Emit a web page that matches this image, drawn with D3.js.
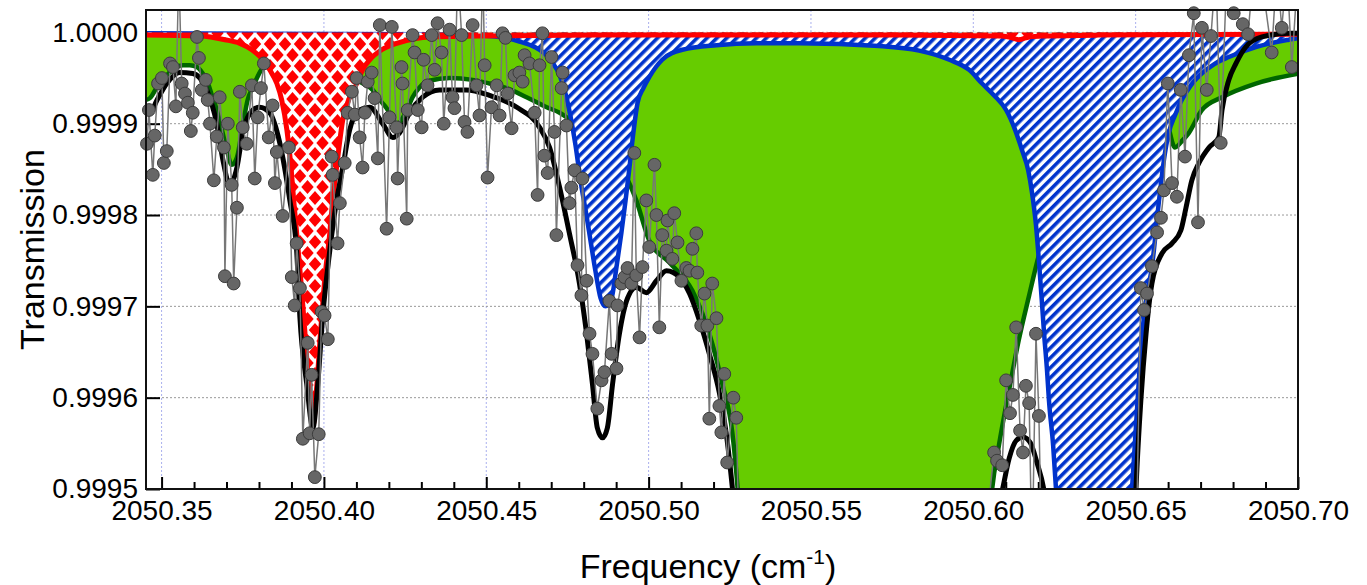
<!DOCTYPE html>
<html>
<head>
<meta charset="utf-8">
<script src="https://cdn.jsdelivr.net/npm/d3@7"></script>
<style>
  body { margin: 0; background: #fff; }
  text { font-family: "Liberation Sans", Arial, sans-serif; }
</style>
</head>
<body>
<svg id="chart" width="1367" height="585"></svg>
<script>
// ---- Tick values ----
const xMajorTicks = [2050.35, 2050.40, 2050.45, 2050.50, 2050.55, 2050.60, 2050.65, 2050.70];
const yTicks = [0.9995, 0.9996, 0.9997, 0.9998, 0.9999, 1.0000];

// ---- Measured spectrum (frequency in cm^-1, transmission) ----
const dataFreq = [
  2050.3455, 2050.3461, 2050.3473, 2050.3479, 2050.3489, 2050.3501, 2050.3507, 2050.3516, 2050.3526, 2050.3535,
  2050.3544, 2050.3553, 2050.3562, 2050.3572, 2050.3581, 2050.3590, 2050.3596, 2050.3609, 2050.3615, 2050.3624,
  2050.3636, 2050.3642, 2050.3649, 2050.3661, 2050.3670, 2050.3679, 2050.3692, 2050.3695, 2050.3704, 2050.3716,
  2050.3722, 2050.3732, 2050.3741, 2050.3750, 2050.3762, 2050.3778, 2050.3787, 2050.3796, 2050.3806, 2050.3815,
  2050.3830, 2050.3842, 2050.3849, 2050.3855, 2050.3873, 2050.3892, 2050.3901, 2050.3910, 2050.3916, 2050.3926,
  2050.3935, 2050.3950, 2050.3956, 2050.3962, 2050.3972, 2050.3984, 2050.3993, 2050.4002, 2050.4012, 2050.4024,
  2050.4027, 2050.4042, 2050.4049, 2050.4064, 2050.4073, 2050.4086, 2050.4095, 2050.4101, 2050.4110, 2050.4119,
  2050.4126, 2050.4135, 2050.4147, 2050.4156, 2050.4166, 2050.4172, 2050.4193, 2050.4202, 2050.4209, 2050.4224,
  2050.4227, 2050.4239, 2050.4242, 2050.4255, 2050.4258, 2050.4273, 2050.4279, 2050.4289, 2050.4301, 2050.4307,
  2050.4319, 2050.4332, 2050.4341, 2050.4350, 2050.4362, 2050.4369, 2050.4387, 2050.4396, 2050.4402, 2050.4412,
  2050.4424, 2050.4433, 2050.4442, 2050.4458, 2050.4470, 2050.4479, 2050.4489, 2050.4495, 2050.4504, 2050.4516,
  2050.4532, 2050.4541, 2050.4550, 2050.4559, 2050.4566, 2050.4578, 2050.4587, 2050.4602, 2050.4612, 2050.4618,
  2050.4633, 2050.4649, 2050.4658, 2050.4664, 2050.4673, 2050.4679, 2050.4689, 2050.4701, 2050.4710, 2050.4716,
  2050.4732, 2050.4735, 2050.4747, 2050.4756, 2050.4762, 2050.4772, 2050.4781, 2050.4793, 2050.4796, 2050.4809,
  2050.4818, 2050.4827, 2050.4842, 2050.4855, 2050.4864, 2050.4879, 2050.4886, 2050.4901, 2050.4904, 2050.4916,
  2050.4926, 2050.4935, 2050.4947, 2050.4956, 2050.4962, 2050.4972, 2050.4981, 2050.4993, 2050.5002, 2050.5018,
  2050.5024, 2050.5033, 2050.5042, 2050.5055, 2050.5058, 2050.5073, 2050.5079, 2050.5089, 2050.5101, 2050.5116,
  2050.5126, 2050.5135, 2050.5147, 2050.5150, 2050.5162, 2050.5172, 2050.5181, 2050.5187, 2050.5196, 2050.5209,
  2050.5218, 2050.5224, 2050.5233, 2050.5242, 2050.5261, 2050.5270, 2050.5285, 2050.5330, 2050.5400, 2050.5500,
  2050.5600, 2050.5700, 2050.5800, 2050.5900, 2050.5990, 2050.6040, 2050.6064, 2050.6073, 2050.6089, 2050.6101,
  2050.6113, 2050.6122, 2050.6132, 2050.6144, 2050.6153, 2050.6162, 2050.6172, 2050.6181, 2050.6193, 2050.6202,
  2050.6215, 2050.6260, 2050.6320, 2050.6380, 2050.6440, 2050.6500, 2050.6516, 2050.6526, 2050.6535, 2050.6550,
  2050.6566, 2050.6578, 2050.6587, 2050.6599, 2050.6612, 2050.6627, 2050.6639, 2050.6652, 2050.6664, 2050.6679,
  2050.6692, 2050.6704, 2050.6719, 2050.6732, 2050.6747, 2050.6762, 2050.6781, 2050.6802, 2050.6830, 2050.6846,
  2050.6864, 2050.6886, 2050.6919, 2050.6935, 2050.6950, 2050.6966, 2050.6981, 2050.7000
];
const dataTrans = [
  0.999878, 0.999915, 0.999844, 0.999887, 0.999944, 0.999950, 0.999857, 0.999870, 0.999966, 0.999962,
  0.999919, 1.000070, 0.999944, 0.999933, 0.999923, 0.999892, 0.999912, 0.999995, 0.999972, 0.999937,
  0.999948, 0.999926, 0.999900, 0.999838, 0.999886, 0.999929, 0.999874, 0.999733, 0.999900, 0.999833,
  0.999725, 0.999808, 0.999935, 0.999896, 0.999878, 0.999942, 0.999840, 0.999907, 0.999939, 0.999966,
  0.999885, 0.999920, 0.999835, 0.999869, 0.999799, 0.999874, 0.999732, 0.999701, 0.999769, 0.999720,
  0.999555, 0.999660, 0.999561, 0.999625, 0.999513, 0.999560, 0.999694, 0.999690, 0.999664, 0.999864,
  0.999844, 0.999769, 0.999813, 0.999857, 0.999912, 0.999935, 0.999910, 0.999950, 0.999885, 0.999852,
  0.999912, 0.999946, 0.999956, 0.999928, 0.999862, 1.000008, 0.999785, 0.999907, 1.000006, 0.999896,
  0.999840, 0.999962, 0.999944, 0.999796, 0.999915, 0.999997, 0.999978, 0.999915, 0.999896, 0.999970,
  0.999942, 0.999997, 0.999959, 1.000010, 0.999978, 0.999900, 1.000003, 0.999929, 0.999917, 1.000070,
  0.999997, 0.999902, 0.999891, 1.000008, 0.999942, 0.999909, 1.000070, 0.999964, 0.999841, 0.999918,
  0.999942, 0.999909, 0.999999, 0.999994, 0.999933, 0.999895, 0.999953, 0.999956, 0.999946, 0.999975,
  0.999966, 0.999912, 0.999822, 0.999964, 0.999999, 0.999865, 0.999846, 0.999973, 0.999891, 0.999778,
  0.999939, 0.999956, 0.999898, 0.999813, 0.999830, 0.999849, 0.999745, 0.999712, 0.999840, 0.999728,
  0.999670, 0.999648, 0.999588, 0.999619, 0.999628, 0.999706, 0.999648, 0.999632, 0.999701, 0.999725,
  0.999732, 0.999742, 0.999725, 0.999868, 0.999734, 0.999666, 0.999743, 0.999816, 0.999765, 0.999855,
  0.999800, 0.999677, 0.999778, 0.999761, 0.999794, 0.999752, 0.999802, 0.999770, 0.999728, 0.999742,
  0.999739, 0.999763, 0.999780, 0.999737, 0.999679, 0.999714, 0.999679, 0.999577, 0.999725, 0.999687,
  0.999591, 0.999562, 0.999626, 0.999529, 0.999600, 0.999578, 0.999350, 0.999240, 0.999150, 0.999060,
  0.999020, 0.999050, 0.999140, 0.999260, 0.999380, 0.999460, 0.999540, 0.999531, 0.999526, 0.999619,
  0.999583, 0.999603, 0.999677, 0.999564, 0.999540, 0.999613, 0.999594, 0.999420, 0.999670, 0.999580,
  0.999350, 0.999180, 0.999080, 0.999120, 0.999250, 0.999400, 0.999720, 0.999696, 0.999714, 0.999744,
  0.999781, 0.999797, 0.999827, 0.999944, 0.999835, 0.999820, 0.999937, 0.999864, 0.999975, 1.000021,
  0.999792, 1.000005, 0.999937, 0.999996, 1.000070, 0.999879, 1.000070, 1.000021, 1.000009, 0.999998,
  1.000070, 1.000065, 0.999978, 1.000070, 1.000005, 1.000070, 0.999962, 1.000070
];

// ---- Total fit (black) ----
const fitFreq = [
  2050.3449, 2050.3464, 2050.3486, 2050.3516, 2050.3556, 2050.3596, 2050.3639, 2050.3670, 2050.3689, 2050.3710,
  2050.3732, 2050.3750, 2050.3781, 2050.3802, 2050.3833, 2050.3864, 2050.3895, 2050.3916, 2050.3926, 2050.3947,
  2050.3966, 2050.3981, 2050.3996, 2050.4018, 2050.4039, 2050.4058, 2050.4079, 2050.4110, 2050.4141, 2050.4181,
  2050.4212, 2050.4233, 2050.4264, 2050.4304, 2050.4356, 2050.4439, 2050.4510, 2050.4594, 2050.4664, 2050.4695,
  2050.4726, 2050.4756, 2050.4787, 2050.4809, 2050.4827, 2050.4842, 2050.4858, 2050.4873, 2050.4889, 2050.4910,
  2050.4932, 2050.4962, 2050.4993, 2050.5024, 2050.5055, 2050.5095, 2050.5126, 2050.5156, 2050.5187, 2050.5218,
  2050.5242, 2050.5258, 2050.5274, 2050.5350, 2050.5500, 2050.5650, 2050.5800, 2050.5950, 2050.6040, 2050.6089,
  2050.6110, 2050.6132, 2050.6153, 2050.6175, 2050.6196, 2050.6218, 2050.6260, 2050.6350, 2050.6450, 2050.6485,
  2050.6501, 2050.6516, 2050.6532, 2050.6550, 2050.6581, 2050.6612, 2050.6639, 2050.6655, 2050.6673, 2050.6695,
  2050.6726, 2050.6756, 2050.6766, 2050.6787, 2050.6809, 2050.6839, 2050.6889, 2050.6972, 2050.7005
];
const fitTrans = [
  0.999918, 0.999912, 0.999926, 0.999944, 0.999956, 0.999955, 0.999937, 0.999900, 0.999860, 0.999833,
  0.999852, 0.999890, 0.999915, 0.999918, 0.999912, 0.999879, 0.999816, 0.999761, 0.999688, 0.999615,
  0.999567, 0.999615, 0.999688, 0.999761, 0.999816, 0.999852, 0.999893, 0.999915, 0.999918, 0.999900,
  0.999885, 0.999890, 0.999912, 0.999929, 0.999937, 0.999937, 0.999931, 0.999918, 0.999896, 0.999874,
  0.999830, 0.999780, 0.999725, 0.999670, 0.999615, 0.999567, 0.999556, 0.999567, 0.999615, 0.999670,
  0.999706, 0.999721, 0.999715, 0.999728, 0.999739, 0.999732, 0.999714, 0.999685, 0.999648, 0.999605,
  0.999553, 0.999501, 0.999440, 0.999250, 0.999050, 0.999000, 0.999050, 0.999250, 0.999440, 0.999498,
  0.999533, 0.999553, 0.999557, 0.999551, 0.999529, 0.999498, 0.999350, 0.999200, 0.999250, 0.999350,
  0.999501, 0.999597, 0.999670, 0.999725, 0.999758, 0.999769, 0.999783, 0.999808, 0.999838, 0.999857,
  0.999874, 0.999885, 0.999915, 0.999948, 0.999966, 0.999984, 0.999995, 0.999999, 0.999999
];

// ---- Component 1 (red, diamond pattern) ----
const redFreq = [
  2050.3452, 2050.3618, 2050.3695, 2050.3741, 2050.3778, 2050.3812, 2050.3833, 2050.3855, 2050.3870, 2050.3886,
  2050.3898, 2050.3907, 2050.3916, 2050.3929, 2050.3941, 2050.3953, 2050.3966, 2050.3978, 2050.3990, 2050.4002,
  2050.4018, 2050.4027, 2050.4039, 2050.4058, 2050.4076, 2050.4101, 2050.4119, 2050.4141, 2050.4178, 2050.4224,
  2050.4279, 2050.4325, 2050.4479, 2050.4849, 2050.5772, 2050.6079, 2050.6110, 2050.6140, 2050.6172, 2050.6218,
  2050.6387, 2050.7005
];
const redTrans = [
  0.999997, 0.999996, 0.999992, 0.999988, 0.999981, 0.999970, 0.999959, 0.999944, 0.999926, 0.999893,
  0.999855, 0.999816, 0.999780, 0.999728, 0.999674, 0.999613, 0.999569, 0.999613, 0.999674, 0.999728,
  0.999780, 0.999816, 0.999852, 0.999904, 0.999926, 0.999944, 0.999959, 0.999970, 0.999981, 0.999988,
  0.999993, 0.999995, 0.999996, 0.999997, 0.999997, 0.999996, 0.999995, 0.999992, 0.999995, 0.999996,
  0.999997, 0.999998
];

// ---- Component 2 (blue, striped) ----
const blueFreq = [
  2050.3452, 2050.4295, 2050.4449, 2050.4541, 2050.4602, 2050.4649, 2050.4679, 2050.4704, 2050.4726, 2050.4744,
  2050.4759, 2050.4775, 2050.4790, 2050.4806, 2050.4821, 2050.4836, 2050.4852, 2050.4867, 2050.4886, 2050.4901,
  2050.4916, 2050.4929, 2050.4941, 2050.4953, 2050.4966, 2050.4984, 2050.5002, 2050.5042, 2050.5104, 2050.5209,
  2050.5332, 2050.5464, 2050.5710, 2050.5833, 2050.5926, 2050.5987, 2050.6027, 2050.6064, 2050.6101, 2050.6129,
  2050.6150, 2050.6169, 2050.6181, 2050.6193, 2050.6202, 2050.6211, 2050.6218, 2050.6227, 2050.6233, 2050.6246,
  2050.6255, 2050.6280, 2050.6326, 2050.6372, 2050.6418, 2050.6464, 2050.6489, 2050.6504, 2050.6520, 2050.6535,
  2050.6550, 2050.6572, 2050.6587, 2050.6602, 2050.6621, 2050.6642, 2050.6670, 2050.6704, 2050.6741, 2050.6787,
  2050.6870, 2050.6972, 2050.7005
];
const blueTrans = [
  0.999999, 0.999998, 0.999997, 0.999995, 0.999990, 0.999984, 0.999977, 0.999967, 0.999953, 0.999933,
  0.999909, 0.999876, 0.999838, 0.999805, 0.999772, 0.999739, 0.999709, 0.999700, 0.999709, 0.999743,
  0.999780, 0.999816, 0.999852, 0.999890, 0.999923, 0.999939, 0.999951, 0.999970, 0.999981, 0.999986,
  0.999988, 0.999988, 0.999985, 0.999980, 0.999970, 0.999959, 0.999944, 0.999931, 0.999915, 0.999893,
  0.999871, 0.999849, 0.999824, 0.999789, 0.999750, 0.999706, 0.999670, 0.999630, 0.999597, 0.999547,
  0.999498, 0.999400, 0.999260, 0.999210, 0.999260, 0.999400, 0.999501, 0.999586, 0.999670, 0.999712,
  0.999743, 0.999816, 0.999860, 0.999890, 0.999909, 0.999926, 0.999942, 0.999955, 0.999965, 0.999973,
  0.999984, 0.999992, 0.999994
];

// ---- Component 3 (green, solid) ----
const greenFreq = [
  2050.3452, 2050.3464, 2050.3489, 2050.3516, 2050.3541, 2050.3566, 2050.3587, 2050.3609, 2050.3627, 2050.3639,
  2050.3655, 2050.3670, 2050.3686, 2050.3701, 2050.3716, 2050.3732, 2050.3750, 2050.3765, 2050.3781, 2050.3802,
  2050.3818, 2050.3849, 2050.3926, 2050.4018, 2050.4064, 2050.4101, 2050.4126, 2050.4150, 2050.4172, 2050.4193,
  2050.4212, 2050.4227, 2050.4242, 2050.4258, 2050.4273, 2050.4295, 2050.4325, 2050.4387, 2050.4458, 2050.4510,
  2050.4563, 2050.4624, 2050.4686, 2050.4726, 2050.4747, 2050.4787, 2050.4849, 2050.4895, 2050.4932, 2050.4962,
  2050.5002, 2050.5064, 2050.5135, 2050.5187, 2050.5227, 2050.5258, 2050.5274, 2050.5295, 2050.5464, 2050.5664,
  2050.5864, 2050.6033, 2050.6058, 2050.6079, 2050.6110, 2050.6140, 2050.6172, 2050.6202, 2050.6264, 2050.6326,
  2050.6418, 2050.6510, 2050.6556, 2050.6596, 2050.6621, 2050.6645, 2050.6664, 2050.6704, 2050.6766, 2050.6870,
  2050.7005
];
const greenTrans = [
  0.999926, 0.999928, 0.999942, 0.999953, 0.999961, 0.999964, 0.999964, 0.999962, 0.999955, 0.999948,
  0.999931, 0.999915, 0.999893, 0.999871, 0.999855, 0.999863, 0.999898, 0.999926, 0.999940, 0.999956,
  0.999965, 0.999972, 0.999976, 0.999974, 0.999964, 0.999948, 0.999943, 0.999937, 0.999926, 0.999917,
  0.999906, 0.999899, 0.999906, 0.999917, 0.999929, 0.999940, 0.999947, 0.999950, 0.999948, 0.999944,
  0.999939, 0.999929, 0.999918, 0.999912, 0.999907, 0.999893, 0.999871, 0.999855, 0.999841, 0.999816,
  0.999772, 0.999748, 0.999717, 0.999670, 0.999615, 0.999561, 0.999501, 0.999380, 0.999100, 0.999000,
  0.999100, 0.999380, 0.999500, 0.999548, 0.999608, 0.999663, 0.999712, 0.999756, 0.999816, 0.999860,
  0.999898, 0.999915, 0.999917, 0.999902, 0.999874, 0.999882, 0.999890, 0.999915, 0.999929, 0.999944,
  0.999955
];

// ---- Layout ----
const svg = d3.select("#chart");
const P = { left: 146, top: 10, right: 1298, bottom: 489 };
const x = d3.scaleLinear().domain([2050.3452, 2050.70]).range([P.left, P.right]);
const y = d3.scaleLinear().domain([0.9995, 1.0000245]).range([P.bottom, P.top]);
const xMinorTicks = d3.range(0, 36).map(i => +(2050.35 + i * 0.01).toFixed(2))
  .filter(v => !xMajorTicks.some(t => Math.abs(t - v) < 1e-6));

const defs = svg.append("defs");
defs.append("clipPath").attr("id", "plotClip")
  .append("rect").attr("x", P.left).attr("y", P.top)
  .attr("width", P.right - P.left).attr("height", P.bottom - P.top);
defs.append("clipPath").attr("id", "markerClip")
  .append("rect").attr("x", P.left - 8).attr("y", P.top - 8)
  .attr("width", P.right - P.left + 16).attr("height", P.bottom - P.top + 8);

// diagonal blue hatching
const stripes = defs.append("pattern").attr("id", "blueHatch")
  .attr("patternUnits", "userSpaceOnUse").attr("width", 7).attr("height", 7)
  .attr("patternTransform", "rotate(45)");
stripes.append("rect").attr("width", 7).attr("height", 7).attr("fill", "#fff");
stripes.append("rect").attr("width", 3.6).attr("height", 7).attr("fill", "#0033cc");

// red diamond lattice
const dW = 15, dH = 22, hw = 6.2, hh = 7;
const diamonds = defs.append("pattern").attr("id", "redDiamonds")
  .attr("patternUnits", "userSpaceOnUse").attr("width", dW).attr("height", dH);
diamonds.append("rect").attr("width", dW).attr("height", dH).attr("fill", "#fff");
[[0, 0], [dW, 0], [0, dH], [dW, dH], [dW / 2, dH / 2]].forEach(([cx, cy]) => {
  diamonds.append("path")
    .attr("d", `M${cx},${cy - hh}L${cx + hw},${cy}L${cx},${cy + hh}L${cx - hw},${cy}Z`)
    .attr("fill", "#ff0000");
});

// ---- Grid ----
const grid = svg.append("g");
grid.selectAll(".vg").data(xMajorTicks).join("line")
  .attr("x1", d => x(d)).attr("x2", d => x(d)).attr("y1", P.top).attr("y2", P.bottom)
  .attr("stroke", "#aab0ee").attr("stroke-width", 1).attr("stroke-dasharray", "2,2");
grid.selectAll(".hg").data(yTicks).join("line")
  .attr("x1", P.left).attr("x2", P.right).attr("y1", d => y(d)).attr("y2", d => y(d))
  .attr("stroke", "#999").attr("stroke-width", 1).attr("stroke-dasharray", "2,2");

// ---- Axes (ticks point inward, drawn beneath the filled components) ----
const fontTick = 28;
const xAxisMajor = d3.axisBottom(x).tickValues(xMajorTicks).tickSizeInner(-12).tickSizeOuter(0)
  .tickPadding(11).tickFormat(d3.format(".2f"));
const xAxisMinor = d3.axisBottom(x).tickValues(xMinorTicks).tickSizeInner(-7).tickSizeOuter(0)
  .tickFormat("");
const yAxis = d3.axisLeft(y).tickValues(yTicks).tickSizeInner(-14).tickSizeOuter(0)
  .tickPadding(8).tickFormat(d3.format(".4f"));

function styleAxis(g) {
  g.select(".domain").remove();
  g.selectAll(".tick line").attr("stroke", "#000").attr("stroke-width", 2);
  g.selectAll(".tick text").attr("fill", "#000").style("font-size", fontTick + "px")
    .style("font-family", '"Liberation Sans", Arial, sans-serif');
}
svg.append("g").attr("transform", `translate(0,${P.bottom})`).call(xAxisMinor).call(styleAxis);
svg.append("g").attr("transform", `translate(0,${P.bottom})`).call(xAxisMajor).call(styleAxis);
svg.append("g").attr("transform", `translate(${P.left},0)`).call(yAxis).call(styleAxis);

// ---- Components ----
const plot = svg.append("g").attr("clip-path", "url(#plotClip)");
const curve = d3.curveMonotoneX;
function areaPath(fr, tr) {
  return d3.area().x((d, i) => x(fr[i])).y0(y(1.0)).y1((d, i) => y(tr[i])).curve(curve)(fr);
}
function linePath(fr, tr) {
  return d3.line().x((d, i) => x(fr[i])).y((d, i) => y(tr[i])).curve(curve)(fr);
}

plot.append("path").attr("d", areaPath(greenFreq, greenTrans)).attr("fill", "#66cc00");
plot.append("path").attr("d", linePath(greenFreq, greenTrans))
  .attr("fill", "none").attr("stroke", "#006600").attr("stroke-width", 4.5);

plot.append("path").attr("d", areaPath(blueFreq, blueTrans)).attr("fill", "url(#blueHatch)");
plot.append("path").attr("d", linePath(blueFreq, blueTrans))
  .attr("fill", "none").attr("stroke", "#0033cc").attr("stroke-width", 4.5);

plot.append("path").attr("d", areaPath(redFreq, redTrans)).attr("fill", "url(#redDiamonds)");
plot.append("path").attr("d", linePath(redFreq, redTrans))
  .attr("fill", "none").attr("stroke", "#ff0000").attr("stroke-width", 5);

// total fit
plot.append("path").attr("d", linePath(fitFreq, fitTrans))
  .attr("fill", "none").attr("stroke", "#000").attr("stroke-width", 5)
  .attr("stroke-linejoin", "round");

// measured points
plot.append("path")
  .attr("d", d3.line().x((d, i) => x(dataFreq[i])).y((d, i) => y(dataTrans[i]))(dataFreq))
  .attr("fill", "none").attr("stroke", "#777").attr("stroke-width", 1.5);
svg.append("g").attr("clip-path", "url(#markerClip)")
  .selectAll("circle").data(dataFreq).join("circle")
  .attr("cx", d => x(d)).attr("cy", (d, i) => y(dataTrans[i])).attr("r", 6.4)
  .attr("fill", "#666").attr("stroke", "#3c3c3c").attr("stroke-width", 1);

// ---- Frame ----
svg.append("rect").attr("x", P.left).attr("y", P.top)
  .attr("width", P.right - P.left).attr("height", P.bottom - P.top)
  .attr("fill", "none").attr("stroke", "#111").attr("stroke-width", 2);

// ---- Axis titles ----
svg.append("text").attr("transform", `translate(32,${(P.top + P.bottom) / 2}) rotate(-90)`)
  .attr("text-anchor", "middle").attr("dominant-baseline", "central")
  .style("font-size", "34px").text("Transmission");

const xt = svg.append("text").attr("x", (P.left + P.right) / 2 - 14).attr("y", 578)
  .attr("text-anchor", "middle").style("font-size", "34px");
xt.append("tspan").text("Frequency (cm");
xt.append("tspan").attr("dy", -14).style("font-size", "21px").text("-1");
xt.append("tspan").attr("dy", 14).text(")");
</script>
</body>
</html>
